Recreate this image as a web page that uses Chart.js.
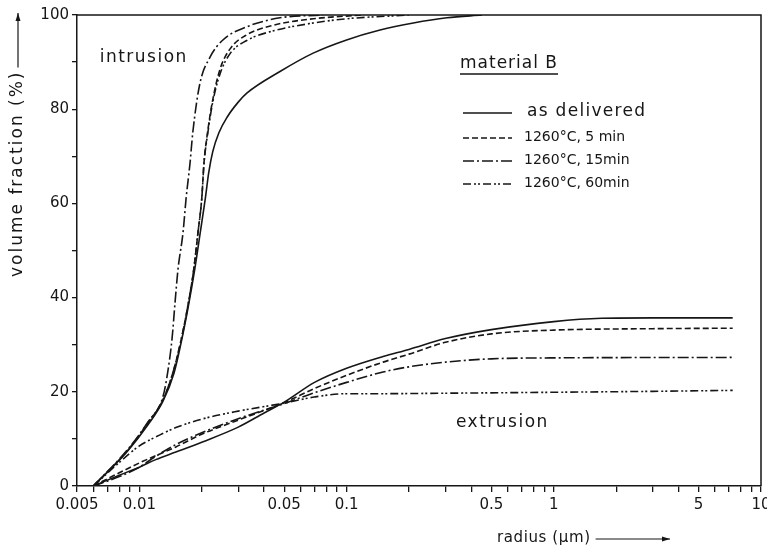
<!DOCTYPE html>
<html>
<head>
<meta charset="utf-8">
<script src="https://cdn.jsdelivr.net/npm/chart.js@4.4.1/dist/chart.umd.min.js"></script>
<style>
  body { margin: 0; background: #fff; }
  #grafico { display: block; }
</style>
</head>
<body>
<canvas id="grafico" width="767" height="549"></canvas>
<script>
// material B: cumulative pore volume vs radius, intrusion and extrusion branches
const condicoes = ['as delivered', '1260°C, 5 min', '1260°C, 15min', '1260°C, 60min'];
const tracos = [[], [6, 3], [11, 3, 2, 3], [8, 3, 2, 2, 2, 3]];

const rotulosX = [0.005, 0.01, 0.05, 0.1, 0.5, 1, 5, 10];

// intrusion
const intEntregueR = [0.006, 0.0088, 0.011, 0.013, 0.0147, 0.016, 0.0172, 0.0185, 0.0197, 0.0208, 0.0216, 0.0226, 0.0242, 0.0265, 0.03, 0.033, 0.0477, 0.069, 0.1, 0.145, 0.21, 0.305, 0.45];
const intEntregueV = [0, 7.5, 13, 18, 24, 31, 38, 46, 54, 61, 66.5, 71, 75, 78.3, 81.5, 83.4, 88, 91.9, 94.7, 96.8, 98.3, 99.4, 100];

const int5R = [0.006, 0.0088, 0.011, 0.013, 0.0145, 0.0159, 0.0171, 0.0183, 0.0192, 0.02, 0.0205, 0.0214, 0.0226, 0.0245, 0.0274, 0.033, 0.044, 0.069, 0.12];
const int5V = [0, 7.6, 13.4, 18.3, 24, 31, 38, 46, 54, 61, 68.6, 75.5, 82, 88.5, 92.8, 95.8, 97.8, 99.2, 100];

const int15R = [0.006, 0.0088, 0.011, 0.013, 0.01375, 0.0144, 0.01486, 0.01535, 0.01626, 0.0168, 0.01756, 0.0181, 0.0196, 0.0219, 0.0253, 0.033, 0.0477, 0.077];
const int15V = [0, 7.8, 13.6, 19, 24.6, 31.6, 38.9, 45.9, 54, 61, 68.6, 75, 85.5, 91, 94.7, 97.5, 99.4, 100];

const int60R = [0.006, 0.0088, 0.011, 0.013, 0.0145, 0.0159, 0.0171, 0.0183, 0.0192, 0.02, 0.0205, 0.0214, 0.0226, 0.0245, 0.0274, 0.033, 0.044, 0.069, 0.1, 0.2];
const int60V = [0, 7.6, 13.4, 18.3, 24, 31, 38, 46, 54, 61, 68.4, 75, 81.5, 87.5, 91.8, 94.6, 96.6, 98.3, 99.2, 100];

// extrusion
const extEntregueR = [0.006, 0.008, 0.01, 0.012, 0.015, 0.02, 0.03, 0.04, 0.05, 0.07, 0.1, 0.15, 0.2, 0.3, 0.5, 1, 1.7, 3, 7.3];
const extEntregueV = [0, 2.3, 4, 5.6, 7.2, 9.3, 12.5, 15.5, 17.8, 22, 25, 27.5, 29, 31.3, 33.2, 34.9, 35.6, 35.7, 35.7];

const ext5R = [0.006, 0.008, 0.01, 0.015, 0.02, 0.03, 0.05, 0.07, 0.1, 0.15, 0.2, 0.3, 0.5, 1, 3, 7.3];
const ext5V = [0, 2.8, 4.9, 8.3, 11, 14, 17.7, 20.7, 23.5, 26.3, 28, 30.5, 32.3, 33.1, 33.4, 33.5];

const ext15R = [0.006, 0.008, 0.01, 0.012, 0.015, 0.02, 0.03, 0.05, 0.07, 0.1, 0.15, 0.2, 0.3, 0.5, 1, 7.3];
const ext15V = [0, 2, 4, 6.3, 8.8, 11.3, 14.3, 17.5, 19.8, 22, 24.2, 25.3, 26.3, 27, 27.2, 27.3];

const ext60R = [0.006, 0.008, 0.01, 0.0125, 0.015, 0.02, 0.03, 0.05, 0.07, 0.1, 0.15, 0.3, 1, 3, 7.3];
const ext60V = [0, 5, 8.5, 10.8, 12.4, 14.2, 15.9, 17.6, 18.9, 19.6, 19.6, 19.7, 19.9, 20.1, 20.3];

const curvas = [
  [intEntregueR, intEntregueV, 0], [int5R, int5V, 1], [int15R, int15V, 2], [int60R, int60V, 3],
  [extEntregueR, extEntregueV, 0], [ext5R, ext5V, 1], [ext15R, ext15V, 2], [ext60R, ext60V, 3]
];

const tinta = '#161616';
const fonte = '"DejaVu Sans", sans-serif';

const datasets = curvas.map(([r, v, c]) => ({
  label: condicoes[c],
  data: r.map((x, i) => ({ x, y: v[i] })),
  borderColor: tinta,
  borderWidth: 1.6,
  borderDash: tracos[c],
  pointRadius: 0,
  fill: false,
  cubicInterpolationMode: 'monotone'
}));

function seta(ctx, x1, y1, x2, y2) {
  const ang = Math.atan2(y2 - y1, x2 - x1);
  ctx.beginPath();
  ctx.moveTo(x1, y1);
  ctx.lineTo(x2, y2);
  ctx.stroke();
  ctx.beginPath();
  ctx.moveTo(x2, y2);
  ctx.lineTo(x2 - 8 * Math.cos(ang) + 2.5 * Math.sin(ang), y2 - 8 * Math.sin(ang) - 2.5 * Math.cos(ang));
  ctx.lineTo(x2 - 8 * Math.cos(ang) - 2.5 * Math.sin(ang), y2 - 8 * Math.sin(ang) + 2.5 * Math.cos(ang));
  ctx.closePath();
  ctx.fill();
}

const extras = {
  id: 'extras',
  afterDraw(chart) {
    const { ctx, chartArea: a, scales } = chart;
    ctx.save();
    ctx.strokeStyle = tinta;
    ctx.fillStyle = tinta;

    // frame on top and right
    ctx.lineWidth = 1.5;
    ctx.beginPath();
    ctx.moveTo(a.left, a.top);
    ctx.lineTo(a.right, a.top);
    ctx.lineTo(a.right, a.bottom);
    ctx.stroke();

    // branch names
    ctx.font = '17px ' + fonte;
    ctx.letterSpacing = '1.5px';
    ctx.textAlign = 'center';
    ctx.textBaseline = 'middle';
    ctx.fillText('intrusion', scales.x.getPixelForValue(0.0105), scales.y.getPixelForValue(91));
    ctx.fillText('extrusion', scales.x.getPixelForValue(0.565), scales.y.getPixelForValue(13.4));

    // axis titles with arrows
    ctx.lineWidth = 1.2;
    ctx.textAlign = 'left';
    ctx.font = '15px ' + fonte;
    ctx.letterSpacing = '0.6px';
    const tx = 'radius (µm)';
    const wx = ctx.measureText(tx).width;
    ctx.fillText(tx, 497, 538);
    seta(ctx, 497 + wx + 5, 539, 670, 539);

    ctx.save();
    ctx.translate(18, 277);
    ctx.rotate(-Math.PI / 2);
    ctx.font = '17px ' + fonte;
    ctx.letterSpacing = '2px';
    const ty = 'volume fraction (%)';
    const wy = ctx.measureText(ty).width;
    ctx.fillText(ty, 0, 0);
    seta(ctx, wy + 3, 0, 264, 0);
    ctx.restore();

    // legend
    ctx.textAlign = 'left';
    ctx.font = '17px ' + fonte;
    ctx.letterSpacing = '1px';
    ctx.fillText('material B', 460, 64);
    const wm = ctx.measureText('material B').width;
    ctx.lineWidth = 1.3;
    ctx.beginPath();
    ctx.moveTo(460, 74);
    ctx.lineTo(460 + wm, 74);
    ctx.stroke();

    const linhas = [112, 137, 160, 183];
    condicoes.forEach((nome, i) => {
      ctx.lineWidth = 1.6;
      ctx.setLineDash(tracos[i]);
      ctx.beginPath();
      ctx.moveTo(463, linhas[i] + 1);
      ctx.lineTo(512, linhas[i] + 1);
      ctx.stroke();
      ctx.setLineDash([]);
      if (i === 0) {
        ctx.font = '17px ' + fonte;
        ctx.letterSpacing = '1.3px';
        ctx.fillText(nome, 527, linhas[i]);
      } else {
        ctx.font = '14px ' + fonte;
        ctx.letterSpacing = '0px';
        ctx.fillText(nome, 524, linhas[i]);
      }
    });
    ctx.restore();
  }
};

const ctx = document.getElementById('grafico').getContext('2d');

new Chart(ctx, {
  type: 'line',
  data: { datasets },
  plugins: [extras],
  options: {
    responsive: false,
    animation: false,
    layout: { padding: { top: 15, right: 6, left: 0, bottom: 0 } },
    scales: {
      x: {
        type: 'logarithmic',
        min: 0.005,
        max: 10,
        afterBuildTicks: scale => {
          const vals = [];
          for (let e = -3; e <= 1; e++) {
            for (let k = 1; k <= 9; k++) {
              const v = +(k * Math.pow(10, e)).toPrecision(3);
              if (v >= 0.005 && v <= 10) vals.push(v);
            }
          }
          scale.ticks = vals.map(value => ({ value }));
        },
        afterFit: scale => {
          scale.height = 63;
          scale.paddingLeft = 0;
          scale.paddingRight = 0;
        },
        ticks: {
          autoSkip: false,
          maxRotation: 0,
          padding: 4,
          color: tinta,
          font: { family: fonte, size: 15 },
          callback: value => rotulosX.some(r => Math.abs(r - value) < r * 1e-6) ? String(value) : ''
        },
        grid: { drawOnChartArea: false, tickLength: 6, color: tinta, lineWidth: 1.3 },
        border: { display: true, color: tinta, width: 1.5 }
      },
      y: {
        min: 0,
        max: 100,
        afterFit: scale => { scale.width = 77; },
        ticks: {
          stepSize: 10,
          padding: 3,
          color: tinta,
          font: { family: fonte, size: 15 },
          callback: value => value % 20 === 0 ? value : ''
        },
        grid: { drawOnChartArea: false, tickLength: 5, color: tinta, lineWidth: 1.3 },
        border: { display: true, color: tinta, width: 1.5 }
      }
    },
    plugins: {
      legend: { display: false },
      tooltip: { enabled: false }
    }
  }
});
</script>
</body>
</html>
